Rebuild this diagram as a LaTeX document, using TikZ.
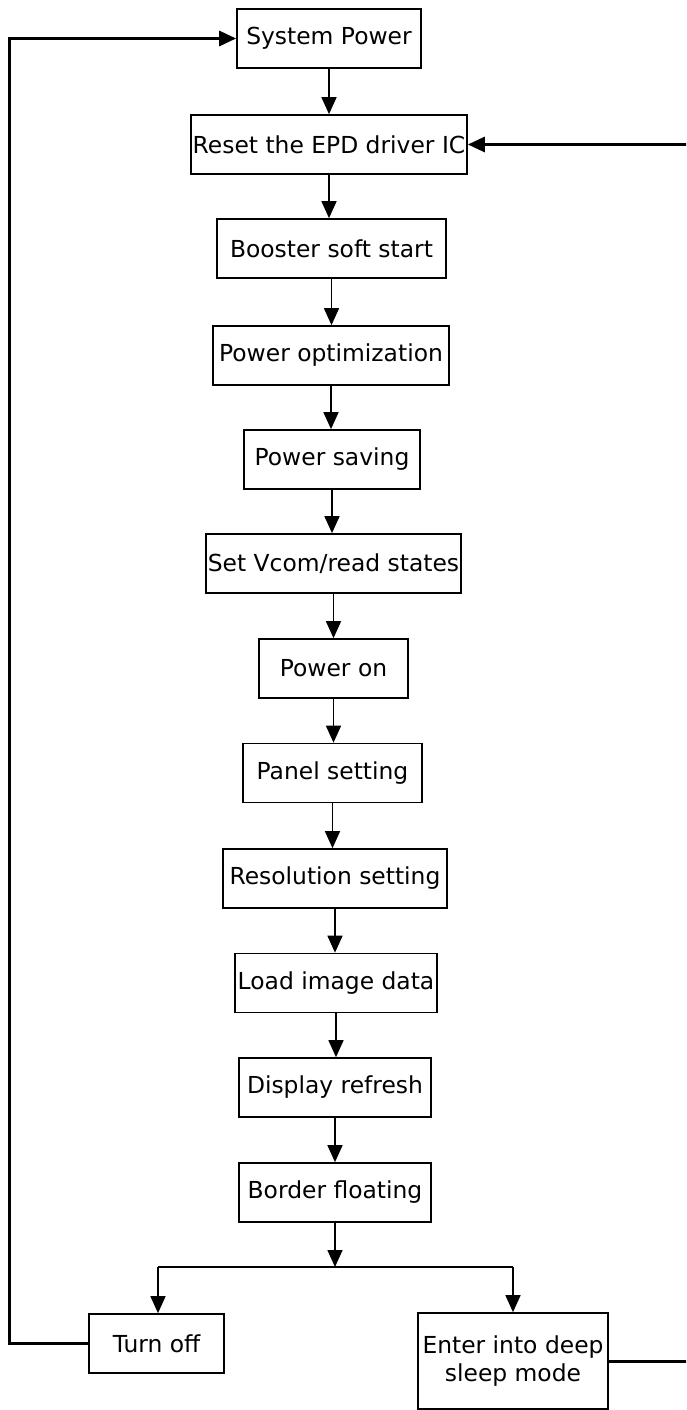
\documentclass[tikz,border=0pt]{standalone}
\usepackage{fontspec}
\setmainfont{DejaVu Sans}
\usetikzlibrary{arrows.meta}
\begin{document}
\begin{tikzpicture}[x=1pt,y=-1pt,
  box/.style={draw=black, line width=1.7pt, inner sep=0pt, minimum height=59pt,
    font=\fontsize{23.4}{28}\selectfont, anchor=center, align=center},
  tip/.style={-{Triangle[width=15pt,length=17pt]}},
  arr/.style={line width=1.6pt, tip},
  loopline/.style={line width=3pt, tip}
]
\useasboundingbox (0,0) rectangle (686,1410);
\clip (0,0) rectangle (686,1410);

\node[box, minimum width=184pt] (sp)   at (329,38.5)   {System Power};
\node[box, minimum width=276pt] (rst)  at (329,144.5)  {Reset the EPD driver IC};
\node[box, minimum width=229pt] (bst)  at (331.5,248.5) {Booster soft start};
\node[box, minimum width=236pt] (popt) at (331,355.5)  {Power optimization};
\node[box, minimum width=176pt] (psav) at (332,459.5)  {Power saving};
\node[box, minimum width=255pt] (vcom) at (333.5,563.5) {Set Vcom/read states};
\node[box, minimum width=149pt] (pon)  at (333.5,668.5) {Power on};
\node[box, minimum width=179pt] (pan)  at (332.5,773)  {Panel setting};
\node[box, minimum width=224pt] (res)  at (335,878.5)  {Resolution setting};
\node[box, minimum width=202pt] (load) at (336,983)    {Load image data};
\node[box, minimum width=192pt] (disp) at (335,1087.5) {Display refresh};
\node[box, minimum width=192pt] (bord) at (335,1192.5) {Border floating};
\node[box, minimum width=135pt] (off)  at (156.5,1343.5) {Turn off};
\node[box, minimum width=190pt, minimum height=96pt] (sleep) at (513,1361) {Enter into deep\\sleep mode};

\coordinate (split) at (335,1267);

\foreach \a/\b in {sp/rst, rst/bst, bst/popt, popt/psav, psav/vcom, vcom/pon,
                   pon/pan, pan/res, res/load, load/disp, disp/bord}
  \draw[arr] (\a.south) -- (\a.south |- \b.north);

\draw[arr] (bord.south) -- (split);
\draw[line width=1.6pt] (split) -- (158,1267) (split) -- (513,1267);
\draw[arr] (158,1267) -- (158,1267 |- off.north);
\draw[arr] (513,1267) -- (sleep.north);

\draw[loopline] (off.west) -- (9,1343.5) |- (sp.west);
\draw[loopline] (sleep.east) -- (694,1361) |- (rst.east);
\end{tikzpicture}
\end{document}
